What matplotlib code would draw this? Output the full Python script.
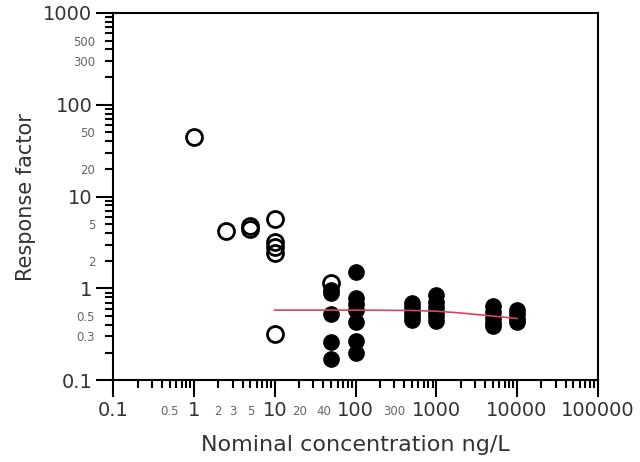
import numpy as np
import matplotlib
matplotlib.use("Agg")
import matplotlib.pyplot as plt
from matplotlib.ticker import FixedLocator, LogLocator, FuncFormatter

plt.rcParams['font.family'] = ['DejaVu Sans']

# open circles (low concentrations)
open_x = [1, 2.5, 5, 5, 10, 10, 10, 10, 10, 50]
open_y = [45, 4.2, 4.4, 4.8, 5.7, 3.2, 2.8, 2.4, 0.32, 1.15]

# filled circles
filled_x = ([50] * 5 + [100] * 7 + [500] * 5 + [1000] * 6
            + [5000] * 5 + [10000] * 4)
filled_y = [0.95, 0.9, 0.53, 0.26, 0.17,
            1.5, 0.78, 0.68, 0.58, 0.43, 0.27, 0.2,
            0.7, 0.62, 0.55, 0.5, 0.45,
            0.84, 0.72, 0.62, 0.55, 0.5, 0.44,
            0.65, 0.56, 0.48, 0.42, 0.39,
            0.58, 0.52, 0.47, 0.43]

# fitted curve
fit_x = [10, 50, 100, 500, 1000, 2000, 5000, 10000]
fit_y = [0.58, 0.58, 0.58, 0.575, 0.565, 0.54, 0.5, 0.47]

x_major = [0.1, 1, 10, 100, 1000, 10000, 100000]
y_major = [0.1, 1, 10, 100, 1000]
x_minor_labels = [0.5, 2, 3, 5, 20, 40, 300]
y_minor_labels = [0.3, 0.5, 2, 5, 20, 50, 300, 500]


def minor_fmt(labels):
    def f(v, pos):
        for l in labels:
            if abs(v - l) / l < 1e-6:
                return '%g' % l
        return ''
    return FuncFormatter(f)


fig = plt.figure(figsize=(6.4, 4.62), dpi=100)
ax = fig.add_axes([0.177, 0.177, 0.757, 0.795])

ax.plot(filled_x, filled_y, 'o', color='black', markersize=11, zorder=3)
ax.plot(open_x, open_y, 'o', markerfacecolor='none', markeredgecolor='black',
        markeredgewidth=2, markersize=11.5, zorder=4)
ax.plot(fit_x, fit_y, '-', color='#e0405f', linewidth=1.2, zorder=5)

ax.set_xscale('log')
ax.set_yscale('log')
ax.set_xlim(0.1, 100000)
ax.set_ylim(0.1, 1000)

ax.xaxis.set_major_locator(FixedLocator(x_major))
ax.yaxis.set_major_locator(FixedLocator(y_major))
ax.xaxis.set_minor_locator(LogLocator(base=10, subs=np.arange(2, 10), numticks=20))
ax.yaxis.set_minor_locator(LogLocator(base=10, subs=np.arange(2, 10), numticks=20))
ax.xaxis.set_major_formatter(FuncFormatter(lambda v, p: '%g' % v))
ax.yaxis.set_major_formatter(FuncFormatter(lambda v, p: '%g' % v))
ax.xaxis.set_minor_formatter(minor_fmt(x_minor_labels))
ax.yaxis.set_minor_formatter(minor_fmt(y_minor_labels))

for s in ax.spines.values():
    s.set_linewidth(1.5)

ax.tick_params(which='major', direction='out', length=12, width=1.5,
               labelsize=14, pad=3, color='black', labelcolor='#333333')
ax.tick_params(which='minor', direction='out', length=6, width=1.5,
               labelsize=8.5, color='black', labelcolor='#666666')
ax.tick_params(axis='x', which='minor', pad=12)
ax.tick_params(axis='y', which='minor', pad=7)

ax.set_xlabel('Nominal concentration ng/L', fontsize=16, labelpad=11,
              color='#333333')
ax.set_ylabel('Response factor', fontsize=15, labelpad=5, color='#333333')

fig.savefig('out.png', dpi=100)
